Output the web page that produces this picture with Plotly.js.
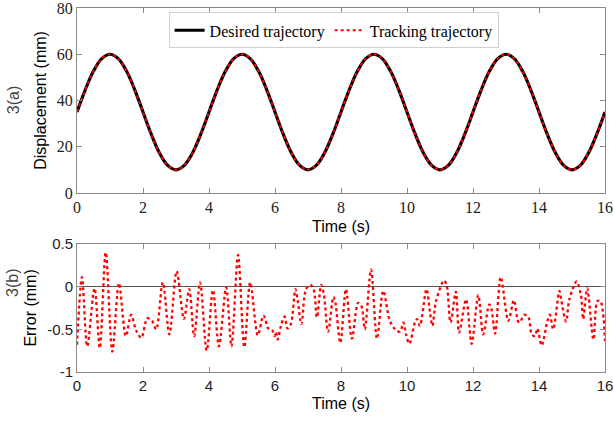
<!DOCTYPE html>
<html>
<head>
<meta charset="utf-8">
<script src="https://cdn.plot.ly/plotly-3.0.1.min.js"></script>
<style>html,body{margin:0;padding:0;background:#fff;}#chart{width:614px;height:427px;}</style>
</head>
<body>
<div id="chart"></div>
<script>
// ---- Data ----
const timeTop = [0,0.25,0.5,0.75,1,1.25,1.5,1.75,2,2.25,2.5,2.75,3,3.25,3.5,3.75,
  4,4.25,4.5,4.75,5,5.25,5.5,5.75,6,6.25,6.5,6.75,7,7.25,7.5,7.75,
  8,8.25,8.5,8.75,9,9.25,9.5,9.75,10,10.25,10.5,10.75,11,11.25,11.5,11.75,
  12,12.25,12.5,12.75,13,13.25,13.5,13.75,14,14.25,14.5,14.75,15,15.25,15.5,15.75,16];
const desired = [35,44.6,52.7,58.1,60,58.1,52.7,44.6,35,25.4,17.3,11.9,10,11.9,17.3,25.4,
  35,44.6,52.7,58.1,60,58.1,52.7,44.6,35,25.4,17.3,11.9,10,11.9,17.3,25.4,
  35,44.6,52.7,58.1,60,58.1,52.7,44.6,35,25.4,17.3,11.9,10,11.9,17.3,25.4,
  35,44.6,52.7,58.1,60,58.1,52.7,44.6,35,25.4,17.3,11.9,10,11.9,17.3,25.4,35];
const tracking = [35,44.6,52.7,58.1,60.1,58.1,52.7,44.6,35,25.4,17.3,11.9,10,11.9,17.3,25.4,
  35,44.6,52.7,58.1,60.1,58.1,52.7,44.6,35,25.4,17.3,11.9,10,11.9,17.3,25.4,
  35,44.6,52.7,58.1,60.1,58.1,52.7,44.6,35,25.4,17.3,11.9,10,11.9,17.3,25.4,
  35,44.6,52.7,58.1,60.1,58.1,52.7,44.6,35,25.4,17.3,11.9,10,11.9,17.3,25.4,35];

const timeErr = [0.00,0.15,0.31,0.53,0.69,0.87,1.07,1.27,1.48,1.64,1.79,1.95,2.13,2.27,2.40,2.60,2.80,
  3.02,3.24,3.40,3.55,3.73,3.93,4.12,4.30,4.52,4.68,4.88,5.07,5.25,5.48,5.65,5.81,5.93,5.99,6.03,6.08,
  6.18,6.29,6.38,6.48,6.62,6.69,6.80,6.94,7.07,7.17,7.27,7.40,7.48,7.61,7.77,7.83,7.98,8.15,8.33,8.52,
  8.62,8.72,8.91,9.09,9.28,9.48,9.64,9.79,9.89,9.97,10.07,10.24,10.30,10.39,10.59,10.70,10.77,10.88,
  11.12,11.20,11.32,11.48,11.58,11.79,11.96,12.16,12.31,12.49,12.55,12.67,12.84,13.07,13.24,13.37,
  13.42,13.55,13.68,13.78,13.88,13.95,14.08,14.25,14.33,14.43,14.62,14.68,14.82,14.92,15.14,15.27,
  15.34,15.46,15.65,15.77,15.86,16.00];
const errorVals = [-0.68,0.11,-0.70,-0.02,-0.72,0.40,-0.76,0.04,-0.58,-0.33,-0.51,-0.60,-0.37,-0.40,-0.50,0.05,-0.56,
  0.18,-0.38,-0.03,-0.58,0.05,-0.75,-0.04,-0.70,-0.01,-0.70,0.37,-0.71,0.05,-0.57,-0.34,-0.50,-0.52,-0.58,-0.53,-0.62,
  -0.46,-0.35,-0.49,-0.44,-0.03,-0.17,-0.44,-0.03,0.02,-0.03,-0.36,0.02,-0.09,-0.53,-0.12,-0.19,-0.66,-0.03,-0.61,-0.19,
  -0.23,-0.50,0.20,-0.61,-0.05,-0.40,-0.50,-0.53,-0.42,-0.56,-0.67,-0.42,-0.38,-0.46,-0.03,-0.31,-0.46,-0.17,
  0.07,0.02,-0.42,-0.06,-0.54,-0.15,-0.67,-0.10,-0.56,-0.21,-0.25,-0.55,0.11,-0.40,-0.16,-0.41,
  -0.42,-0.33,-0.36,-0.56,-0.58,-0.49,-0.69,-0.41,-0.33,-0.50,-0.05,-0.17,-0.41,-0.15,0.06,-0.10,
  -0.38,-0.02,-0.62,-0.17,-0.17,-0.64];

const xTicks = [0,2,4,6,8,10,12,14,16];
const yTopTicks = [0,20,40,60,80];
const yBotTicks = [-1,-0.5,0,0.5];
const yBotTickText = ["-1","-0.5","0","0.5"];

// ---- Styling ----
const SERIF = "'Liberation Serif', 'Times New Roman', serif";
const SANS = "'Liberation Sans', Arial, sans-serif";
const AX = '#8a8a8a';

const traces = [
  {x: timeTop, y: desired, type: 'scatter', mode: 'lines', name: 'Desired trajectory',
   line: {color: '#000000', width: 3.2, shape: 'spline'}, xaxis: 'x', yaxis: 'y'},
  {x: timeTop, y: tracking, type: 'scatter', mode: 'lines', name: 'Tracking trajectory',
   line: {color: '#ff0000', width: 2, dash: 'dot', shape: 'spline'}, xaxis: 'x', yaxis: 'y'},
  {x: timeErr, y: errorVals, type: 'scatter', mode: 'lines', showlegend: false,
   line: {color: '#ff0000', width: 2.3, dash: 'dot', shape: 'spline', smoothing: 0.9}, xaxis: 'x2', yaxis: 'y2'}
];

const axisCommon = {
  showline: true, linecolor: AX, linewidth: 1, mirror: 'ticks',
  ticks: 'inside', ticklen: 5, tickcolor: AX, showgrid: false, zeroline: false,
  ticklabeloverflow: 'allow'
};

const layout = {
  width: 614, height: 427,
  margin: {l: 77, r: 9, t: 8, b: 55},
  paper_bgcolor: '#ffffff', plot_bgcolor: '#ffffff',
  showlegend: true,
  legend: {orientation: 'h', x: 0.486, xanchor: 'center', y: 0.988, yanchor: 'top',
    bgcolor: '#ffffff', bordercolor: '#d0d0d0', borderwidth: 1,
    font: {family: SERIF, size: 16, color: '#000'}, tracegroupgap: 0, itemwidth: 30},
  xaxis: Object.assign({}, axisCommon, {domain: [0, 1], anchor: 'y', range: [0, 16],
    tickvals: xTicks, tickfont: {family: SERIF, size: 16, color: '#222'},
    title: {text: 'Time (s)', font: {family: SANS, size: 16, color: '#000'}, standoff: 5}}),
  yaxis: Object.assign({}, axisCommon, {domain: [0.492, 1], anchor: 'x', range: [0, 80],
    tickvals: yTopTicks, tickfont: {family: SERIF, size: 16, color: '#222'},
    title: {text: 'Displacement (mm)', font: {family: SANS, size: 16, color: '#000'}, standoff: 6}}),
  xaxis2: Object.assign({}, axisCommon, {domain: [0, 1], anchor: 'y2', range: [0, 16],
    tickvals: xTicks, tickfont: {family: SANS, size: 15, color: '#222'},
    title: {text: 'Time (s)', font: {family: SANS, size: 16, color: '#000'}, standoff: 4}}),
  yaxis2: Object.assign({}, axisCommon, {domain: [0, 0.352], anchor: 'x2', range: [-1, 0.5],
    tickvals: yBotTicks, ticktext: yBotTickText, tickfont: {family: SANS, size: 15, color: '#222'},
    zeroline: true, zerolinecolor: '#555555', zerolinewidth: 1.5,
    title: {text: 'Error (mm)', font: {family: SANS, size: 16, color: '#000'}, standoff: 6}}),
  annotations: [
    {text: '3(a)', xref: 'paper', yref: 'paper', x: -0.121, y: 0.747, textangle: -90,
     showarrow: false, xanchor: 'center', yanchor: 'middle', font: {family: SANS, size: 16, color: '#444'}},
    {text: '3(b)', xref: 'paper', yref: 'paper', x: -0.121, y: 0.245, textangle: -90,
     showarrow: false, xanchor: 'center', yanchor: 'middle', font: {family: SANS, size: 16, color: '#444'}}
  ]
};

Plotly.newPlot('chart', traces, layout, {displayModeBar: false, staticPlot: true});
</script>
</body>
</html>
